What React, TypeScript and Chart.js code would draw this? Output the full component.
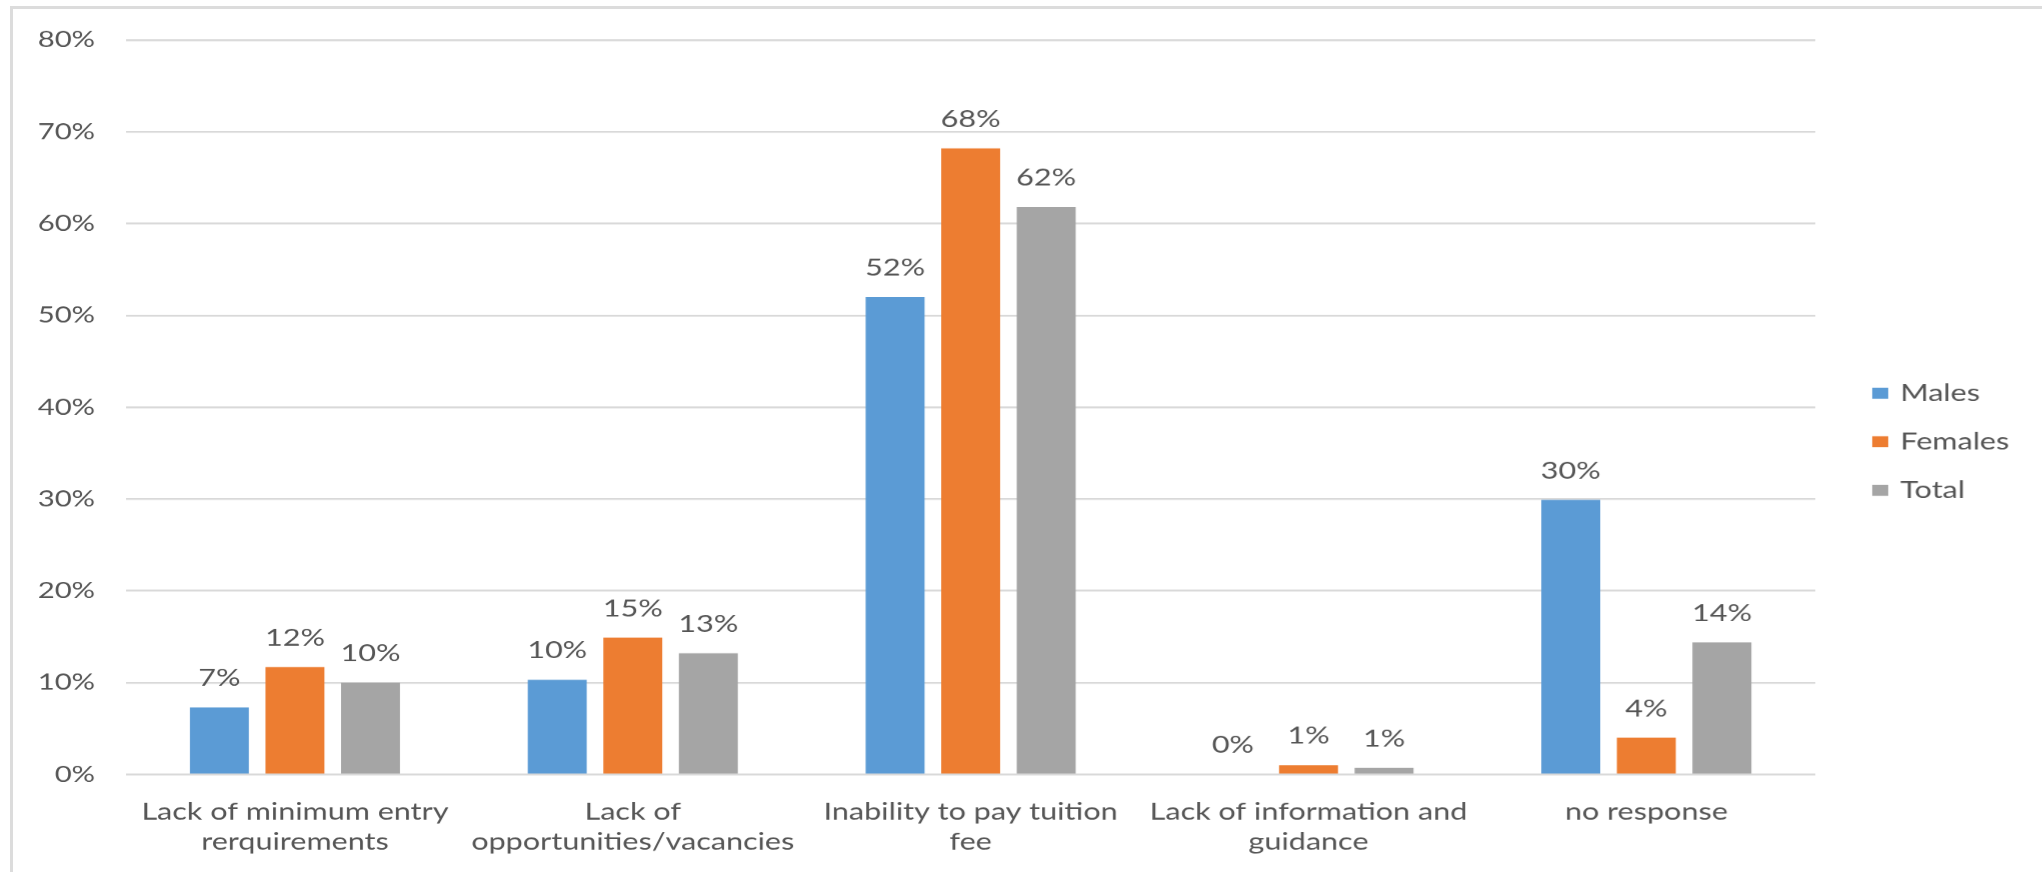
import React, { useEffect, useRef } from "react";
import { Chart, registerables } from "chart.js";

Chart.register(...registerables);

// ---- data ----
const categories: string[][] = [
  ["Lack of minimum entry", "rerquirements"],
  ["Lack of", "opportunities/vacancies"],
  ["Inability to pay tuition", "fee"],
  ["Lack of information and", "guidance"],
  ["no response"],
];
const seriesNames = ["Males", "Females", "Total"];
const males = [7.3, 10.3, 52.0, 0, 29.9];
const females = [11.7, 14.9, 68.2, 1.0, 4.0];
const total = [10.0, 13.2, 61.8, 0.7, 14.4];
const seriesColors = ["#5B9BD5", "#ED7D31", "#A5A5A5"];
const yMin = 0;
const yMax = 80;
const yStep = 10;

// ---- styling ----
const STRETCH = 1.3; // the reference chart is stretched horizontally
const CSS_W = 1571;
const CSS_H = 872;
const FONT = "Lato";
const FONT_SIZE = 23.5;
const TICK_SIZE = 22.5;
const TEXT = "#555555";
const GRID = "#d9d9d9";

const valueLabels = {
  id: "valueLabels",
  afterDatasetsDraw(chart: any) {
    const { ctx } = chart;
    ctx.save();
    ctx.font = `${FONT_SIZE}px ${FONT}`;
    ctx.fillStyle = TEXT;
    ctx.textAlign = "center";
    ctx.textBaseline = "middle";
    chart.data.datasets.forEach((ds: any, i: number) => {
      const meta = chart.getDatasetMeta(i);
      meta.data.forEach((bar: any, j: number) => {
        const v = ds.data[j] as number;
        ctx.fillText(`${Math.round(v)}%`, bar.x, bar.y - 29);
      });
    });
    ctx.restore();
  },
};

const sideLegend = {
  id: "sideLegend",
  afterDraw(chart: any) {
    const { ctx, chartArea } = chart;
    ctx.save();
    ctx.font = `${FONT_SIZE}px ${FONT}`;
    ctx.textAlign = "left";
    ctx.textBaseline = "middle";
    chart.data.datasets.forEach((ds: any, i: number) => {
      const y = chartArea.top + 353 + i * 48.5;
      ctx.fillStyle = ds.backgroundColor;
      ctx.fillRect(chartArea.right + 43.8, y - 5.5, 12.3, 11);
      ctx.fillStyle = TEXT;
      ctx.fillText(ds.label, chartArea.right + 65.4, y);
    });
    ctx.restore();
  },
};

function BarChart() {
  const ref = useRef<HTMLCanvasElement | null>(null);
  useEffect(() => {
    if (!ref.current) return;
    const seriesData = [males, females, total];
    const chart = new Chart(ref.current, {
      type: "bar",
      data: {
        labels: categories,
        datasets: seriesNames.map((name, i) => ({
          label: name,
          data: seriesData[i],
          backgroundColor: seriesColors[i],
          borderWidth: 0,
          categoryPercentage: 0.671,
          barPercentage: 0.78,
        })),
      },
      options: {
        animation: false,
        responsive: false,
        devicePixelRatio: STRETCH,
        layout: { padding: { left: 0, right: CSS_W - 1815 / STRETCH, top: 40, bottom: 0 } },
        plugins: {
          legend: { display: false },
          tooltip: { enabled: false },
          title: { display: false },
        },
        scales: {
          x: {
            grid: { display: false, drawTicks: false },
            border: { display: false },
            ticks: {
              color: TEXT,
              font: { family: FONT, size: FONT_SIZE, lineHeight: 30 / FONT_SIZE },
              padding: 23,
              maxRotation: 0,
              minRotation: 0,
              autoSkip: false,
            },
            afterFit(axis: any) {
              axis.height = 98;
            },
          },
          y: {
            min: yMin,
            max: yMax,
            grid: { color: GRID, lineWidth: 2, drawTicks: false },
            border: { display: false },
            ticks: {
              stepSize: yStep,
              color: TEXT,
              font: { family: FONT, size: TICK_SIZE },
              padding: 23.8,
              callback: (v: any) => `${v}%`,
            },
            afterFit(axis: any) {
              axis.width = 126 / STRETCH;
            },
          },
        },
      },
      plugins: [valueLabels, sideLegend],
    });
    return () => chart.destroy();
  }, []);

  return (
    <div
      style={{
        position: "absolute",
        left: 0,
        top: 0,
        transform: `scaleX(${STRETCH})`,
        transformOrigin: "0 0",
      }}
    >
      <canvas ref={ref} width={CSS_W} height={CSS_H} />
    </div>
  );
}

export default function App() {
  return (
    <div
      style={{
        position: "fixed",
        left: 0,
        top: 0,
        width: 2042,
        height: 872,
        overflow: "hidden",
        background: "#ffffff",
      }}
    >
      <BarChart />
      <div
        style={{
          position: "absolute",
          left: 10,
          top: 6,
          width: 2100,
          height: 900,
          borderLeft: "3px solid #dcdcdc",
          borderTop: "3px solid #dcdcdc",
          pointerEvents: "none",
        }}
      />
    </div>
  );
}
